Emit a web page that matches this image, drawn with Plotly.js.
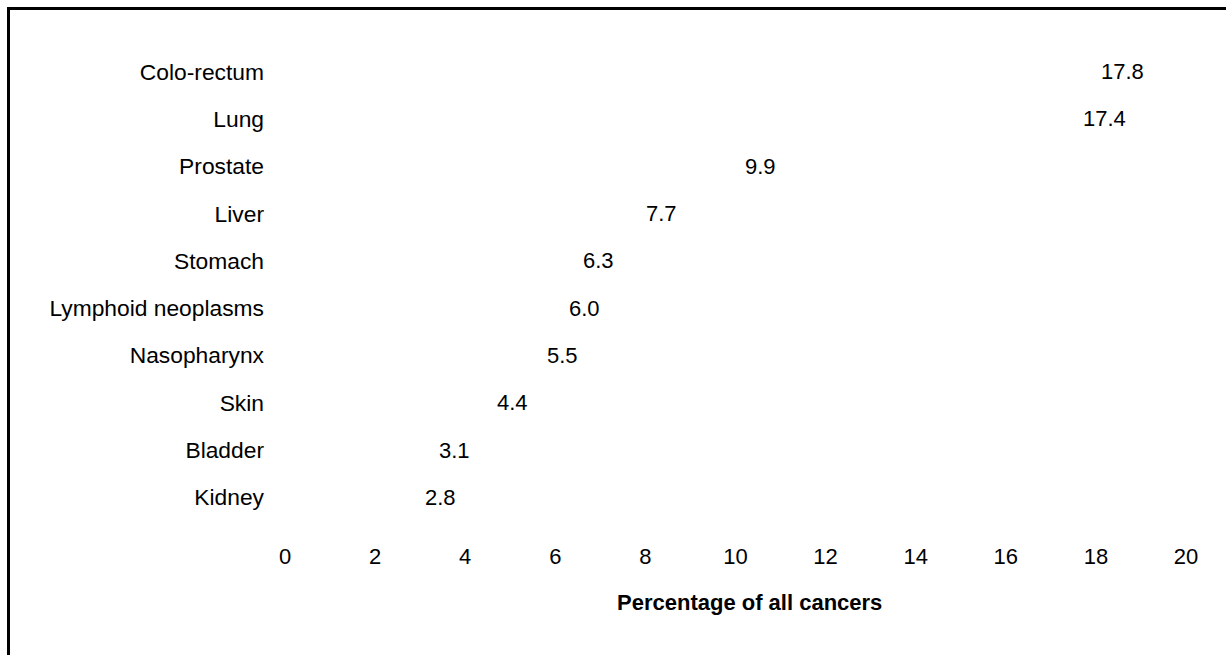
<!DOCTYPE html>
<html>
<head>
<meta charset="utf-8">
<script src="https://cdn.plot.ly/plotly-3.0.1.min.js"></script>
<style>
  html, body { margin: 0; padding: 0; background: #fff; }
  #wrap { position: relative; width: 1226px; height: 655px; overflow: hidden; }
  #frame { position: absolute; left: 7px; top: 7px; width: 1240px; height: 700px;
           border-left: 3px solid #000; border-top: 3px solid #000; box-sizing: border-box; pointer-events: none; }
  #chart { position: absolute; left: 0; top: 0; width: 1226px; height: 655px; }
</style>
</head>
<body>
<div id="wrap">
  <div id="chart"></div>
  <div id="frame"></div>
</div>
<script>
const categories = ["Colo-rectum", "Lung", "Prostate", "Liver", "Stomach",
  "Lymphoid neoplasms", "Nasopharynx", "Skin", "Bladder", "Kidney"];
const values = [17.8, 17.4, 9.9, 7.7, 6.3, 6.0, 5.5, 4.4, 3.1, 2.8];
const valueLabels = ["17.8", "17.4", "9.9", "7.7", "6.3", "6.0", "5.5", "4.4", "3.1", "2.8"];
const xTicks = [0, 2, 4, 6, 8, 10, 12, 14, 16, 18, 20];
const xTitle = "Percentage of all cancers";

const FONT = "Liberation Sans, Arial, Helvetica, sans-serif";
const FS = 22;

const trace = {
  type: "bar",
  orientation: "h",
  x: values,
  y: categories,
  marker: { color: "rgba(255,255,255,0)" },
  hoverinfo: "x+y",
  showlegend: false
};

const annotations = values.map((v, i) => ({
  x: v, y: categories[i], xref: "x", yref: "y",
  text: valueLabels[i], showarrow: false,
  xanchor: "left", yanchor: "middle", xshift: 12,
  font: { family: FONT, size: FS, color: "#000" }
}));

annotations.push({
  x: 0.516, y: 0, xref: "paper", yref: "paper",
  xanchor: "center", yanchor: "middle", yshift: -81,
  text: "<b>" + xTitle + "</b>", showarrow: false,
  font: { family: FONT, size: FS, color: "#000" }
});

const layout = {
  width: 1226, height: 655,
  margin: { l: 285, r: 40, t: 48, b: 134 },
  paper_bgcolor: "#fff", plot_bgcolor: "#fff",
  font: { family: FONT, size: FS, color: "#000" },
  bargap: 0.3,
  xaxis: {
    range: [0, 20], tickvals: xTicks, ticktext: xTicks.map(String),
    showgrid: false, zeroline: false, showline: false,
    ticks: "outside", ticklen: 16, tickcolor: "rgba(0,0,0,0)",
    tickfont: { family: FONT, size: FS, color: "#000" },
    automargin: false, fixedrange: true
  },
  yaxis: {
    categoryorder: "array", categoryarray: categories, autorange: "reversed",
    showgrid: false, zeroline: false, showline: false,
    ticks: "", ticklabelstandoff: 20,
    tickfont: { family: FONT, size: 22.8, color: "#000" },
    automargin: false, fixedrange: true
  },
  annotations: annotations
};

Plotly.newPlot("chart", [trace], layout, { displayModeBar: false, staticPlot: true });
</script>
</body>
</html>
